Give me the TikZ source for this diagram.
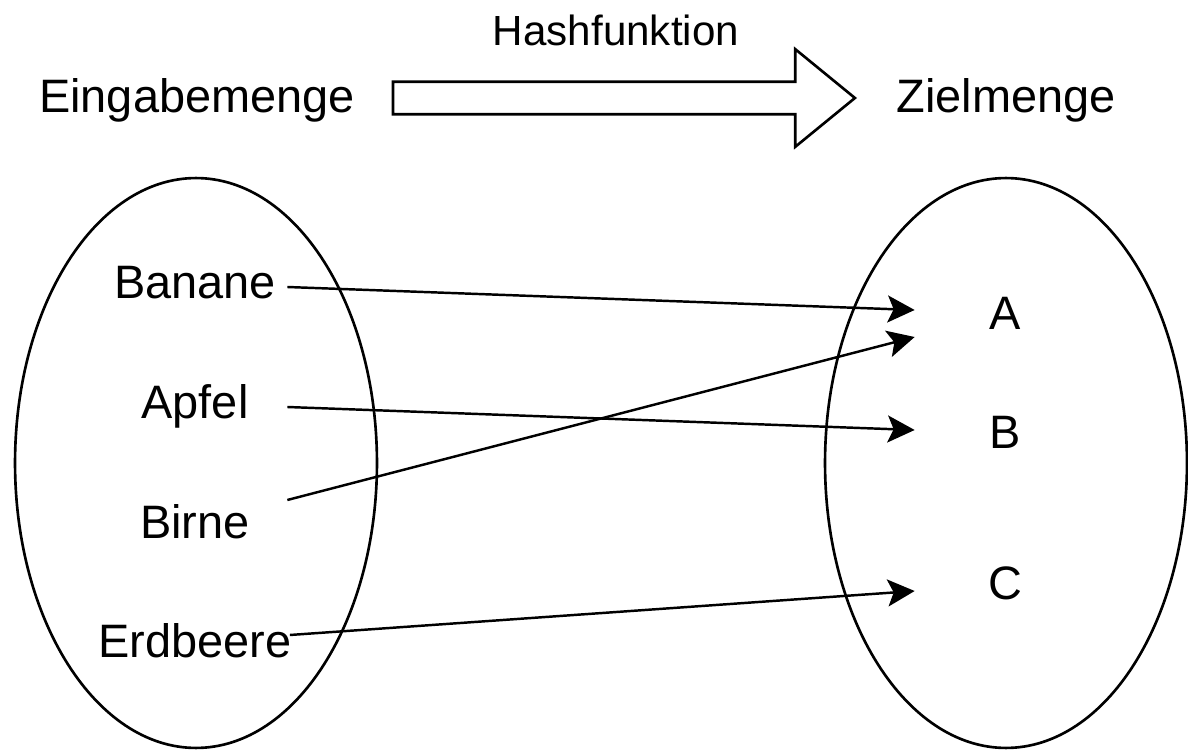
\documentclass[tikz,border=0pt]{standalone}
\usepackage{fontspec}
\setmainfont{Liberation Sans}
\usetikzlibrary{shapes.geometric, shapes.arrows, arrows.meta, calc}

\begin{document}
\begin{tikzpicture}[x=0.02cm, y=-0.02cm,
			menge/.style={draw, ellipse, line width=1.5pt, minimum width=7.24cm, minimum height=11.4cm, inner sep=0pt},
			element/.style={font=\fontsize{26.7}{32}\selectfont, text height=19.1pt, text depth=0pt, inner sep=0pt, minimum width=3.68cm},
			wert/.style={element, minimum width=3.6cm},
			titel/.style={font=\fontsize{26.7}{32}\selectfont, text height=19.1pt, text depth=0pt, inner sep=0pt},
			pfeil/.style={-{Stealth[length=0.54cm, width=0.54cm, inset=0.12cm]}, line width=1.4pt}]
			
			\useasboundingbox (0,0) rectangle (1188,750);
			
			\node[menge] (eingabe) at (196,463) {};
			\node[menge] (ziel) at (1006,463) {};
			
			\node[titel] (eingabetitel) at (197,96) {Eingabemenge};
			\node[titel] (zieltitel) at (1006,96) {Zielmenge};
			\node[single arrow, draw, line width=1.5pt, minimum height=9.24cm, inner sep=0.3cm,
				single arrow head extend=0.65cm, single arrow head indent=0pt, single arrow tip angle=78.6] (hash) at (614,98) {};
			\node[titel, font=\fontsize{24}{29}\selectfont, text height=17.2pt] (hashtitel) at (616,30) {Hashfunktion};
			
			\node[element] (banane) at (195,282) {Banane};
			\node[element] (apfel) at (195,402) {Apfel};
			\node[element] (birne) at (195,522) {Birne};
			\node[element] (erdbeere) at (195,641) {Erdbeere};
			
			\node[wert] (a) at (1005,313) {A};
			\node[wert] (b) at (1005,432) {B};
			\node[wert] (c) at (1005,583) {C};
			
			\draw[pfeil] ($(banane.east)+(0,5)$) -- ($(a.west)+(0,-3)$);
			\draw[pfeil] ($(apfel.east)+(0,5)$) -- ($(b.west)+(0,-2)$);
			\draw[pfeil] ($(birne.east)+(0,-22)$) -- ($(a.west)+(0,24)$);
			\draw[pfeil] ($(erdbeere.east)+(-2,-6)$) -- ($(c.west)+(0,8)$);
		\end{tikzpicture}
\end{document}
